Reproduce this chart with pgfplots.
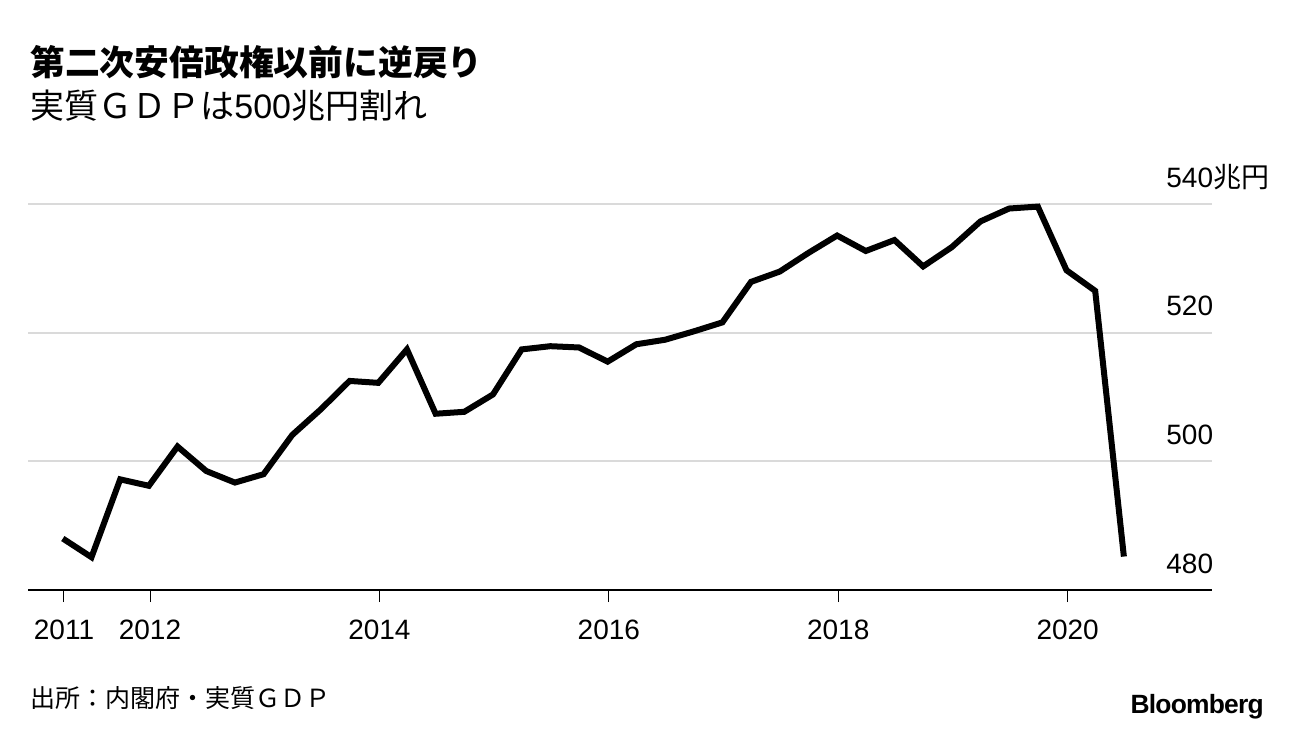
\documentclass[border=0pt]{standalone}
\usepackage{pgfplots}
\pgfplotsset{compat=1.18}
\usepackage{fontspec}
\setmainfont{Liberation Sans}
\newfontfamily\cjk{Noto Sans CJK JP}
\definecolor{gridgray}{HTML}{DADADA}

\pgfplotstableread{
x        y
2011.24  488.0
2011.49  485.1
2011.74  497.2
2011.99  496.2
2012.24  502.3
2012.49  498.5
2012.74  496.7
2012.99  498.0
2013.24  504.1
2013.49  508.1
2013.74  512.5
2013.99  512.2
2014.24  517.4
2014.49  507.4
2014.74  507.7
2014.99  510.4
2015.24  517.4
2015.49  517.9
2015.74  517.7
2015.99  515.5
2016.24  518.2
2016.49  518.9
2016.74  520.2
2016.99  521.6
2017.24  527.9
2017.49  529.5
2017.74  532.4
2017.99  535.1
2018.24  532.7
2018.49  534.4
2018.74  530.3
2018.99  533.3
2019.24  537.3
2019.49  539.3
2019.74  539.6
2019.99  529.7
2020.24  526.5
2020.49  485.2
}\gdp

\begin{document}
\begin{tikzpicture}
\path[use as bounding box] (0pt,0pt) rectangle (648pt,368pt);

\node[anchor=base west, inner sep=0pt, font=\cjk\bfseries\fontsize{17.4pt}{20pt}\selectfont]
  at (15pt,330.3pt) {第二次安倍政権以前に逆戻り};
\node[anchor=base west, inner sep=0pt, font=\cjk\fontsize{17pt}{20pt}\selectfont]
  at (15pt,309pt) {実質ＧＤＰは{\rmfamily 500}兆円割れ};

\begin{axis}[
  at={(14.15pt,73pt)}, anchor=south west,
  scale only axis,
  width=591.6pt, height=193pt,
  xmin=2010.939, xmax=2021.254,
  ymin=480, ymax=540,
  clip=false,
  axis x line*=bottom,
  axis y line*=right,
  x axis line style={black, line width=0.7pt, -},
  y axis line style={draw=none},
  xtick={2011.25,2012,2014,2016,2018,2020},
  xticklabels={2011,2012,2014,2016,2018,2020},
  ytick={480,500,520,540},
  yticklabels={480,500,520,{540\rlap{\cjk 兆円}}},
  tick align=outside,
  major tick length=6pt,
  xtick style={black, line width=0.5pt},
  ytick style={draw=none},
  ymajorgrids=true,
  grid style={gridgray, line width=1pt},
  tick label style={font=\fontsize{14pt}{16pt}\selectfont},
  /pgf/number format/assume math mode=true,
  xticklabel style={anchor=base, inner sep=0pt, yshift=-18.5pt},
  yticklabel style={anchor=base east, inner sep=0pt, yshift=8.5pt, xshift=-5pt},
]
\addplot[black, line width=3pt, line join=miter] table[x=x, y=y] {\gdp};
\end{axis}

\node[anchor=base west, inner sep=0pt, font=\cjk\fontsize{12.5pt}{15pt}\selectfont]
  at (15pt,14.25pt) {出所：内閣府・実質ＧＤＰ};
\node[anchor=base east, inner sep=0pt, font=\bfseries\fontsize{13.2pt}{15pt}\selectfont]
  at (632pt,11.5pt) {\addfontfeatures{LetterSpace=-3}Bloomberg};
\end{tikzpicture}
\end{document}
